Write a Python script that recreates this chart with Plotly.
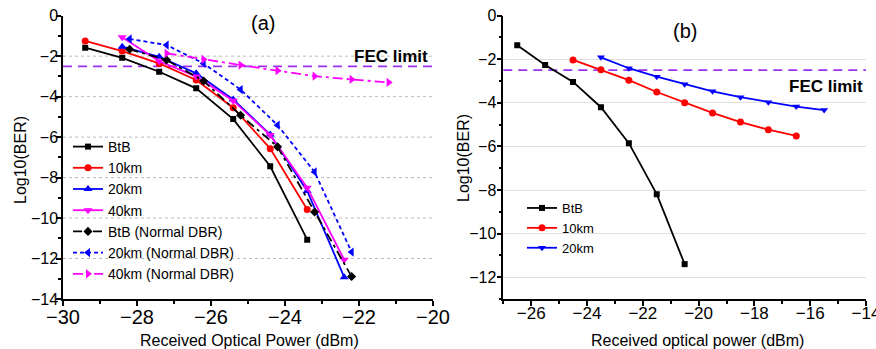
import plotly.graph_objects as go

# ---------------- Panel (a) data ----------------
a_btb_x = [-29.4, -28.4, -27.4, -26.4, -25.4, -24.4, -23.4]
a_btb_y = [-1.58, -2.08, -2.77, -3.59, -5.11, -7.44, -11.07]
a_10_x = [-29.4, -28.4, -27.4, -26.4, -25.4, -24.4, -23.4]
a_10_y = [-1.25, -1.75, -2.36, -3.18, -4.55, -6.57, -9.58]
a_20_x = [-28.4, -27.4, -26.4, -25.4, -24.4, -23.4, -22.4]
a_20_y = [-1.53, -2.03, -2.85, -4.14, -5.87, -8.66, -12.92]
a_40_x = [-28.4, -27.4, -26.4, -25.4, -24.4, -23.4, -22.4]
a_40_y = [-1.07, -2.25, -3.0, -4.2, -5.9, -8.5, -12.06]
a_btbn_x = [-28.2, -27.2, -26.2, -25.2, -24.2, -23.2, -22.2]
a_btbn_y = [-1.66, -2.19, -3.23, -4.92, -6.48, -9.70, -12.89]
a_20n_x = [-28.2, -27.2, -26.2, -25.2, -24.2, -23.2, -22.2]
a_20n_y = [-1.15, -1.45, -2.36, -3.65, -5.41, -7.72, -11.68]
a_40n_x = [-27.2, -26.2, -25.2, -24.2, -23.2, -22.2, -21.2]
a_40n_y = [-1.86, -2.16, -2.44, -2.72, -2.99, -3.15, -3.30]

# ---------------- Panel (b) data ----------------
b_btb_x = [-26.5, -25.5, -24.5, -23.5, -22.5, -21.5, -20.5]
b_btb_y = [-1.36, -2.26, -3.04, -4.20, -5.85, -8.19, -11.40]
b_10_x = [-24.5, -23.5, -22.5, -21.5, -20.5, -19.5, -18.5, -17.5, -16.5]
b_10_y = [-2.03, -2.48, -2.96, -3.50, -3.99, -4.46, -4.88, -5.23, -5.52]
b_20_x = [-23.5, -22.5, -21.5, -20.5, -19.5, -18.5, -17.5, -16.5, -15.5]
b_20_y = [-1.91, -2.41, -2.80, -3.15, -3.47, -3.74, -3.97, -4.17, -4.33]

FEC = -2.5
GRID_A = [-2, -4, -6, -8, -10, -12]

FONT = "Liberation Sans, Arial, sans-serif"
BLACK, RED, BLUE, MAG, PURPLE = "#000000", "#FF0000", "#0000FF", "#FF00FF", "#9B30F0"

fig = go.Figure()

def add(x, y, name, color, symbol, dash="solid", msize=7, xa="x", ya="y", legend="legend"):
    fig.add_trace(go.Scatter(
        x=x, y=y, name=name, mode="lines+markers",
        line=dict(color=color, width=1.8, dash=dash),
        marker=dict(symbol=symbol, size=msize, color=color),
        xaxis=xa, yaxis=ya, legend=legend))

add(a_btb_x, a_btb_y, "BtB", BLACK, "square", msize=6)
add(a_10_x, a_10_y, "10km", RED, "circle", msize=7)
add(a_20_x, a_20_y, "20km", BLUE, "triangle-up", msize=8)
add(a_40_x, a_40_y, "40km", MAG, "triangle-down", msize=8)
add(a_btbn_x, a_btbn_y, "BtB (Normal DBR)", BLACK, "diamond", dash="9px,4px,3px,4px", msize=7)
add(a_20n_x, a_20n_y, "20km (Normal DBR)", BLUE, "triangle-left", dash="4px,3px", msize=8)
add(a_40n_x, a_40n_y, "40km (Normal DBR)", MAG, "triangle-right", dash="10px,4px,3px,4px", msize=8)

add(b_btb_x, b_btb_y, "BtB", BLACK, "square", msize=6, xa="x2", ya="y2", legend="legend2")
add(b_10_x, b_10_y, "10km", RED, "circle", msize=7, xa="x2", ya="y2", legend="legend2")
add(b_20_x, b_20_y, "20km", BLUE, "triangle-down", msize=7, xa="x2", ya="y2", legend="legend2")

shapes = []
for g in GRID_A:
    shapes.append(dict(type="line", xref="x domain", yref="y", x0=0, x1=1, y0=g, y1=g,
                       line=dict(color="#BBBBBB", width=1, dash="dot"), layer="below"))
shapes.append(dict(type="line", xref="x domain", yref="y", x0=0, x1=1, y0=FEC, y1=FEC,
                   line=dict(color=PURPLE, width=1.8, dash="9px,6px"), layer="below"))
shapes.append(dict(type="line", xref="x2 domain", yref="y2", x0=0, x1=1, y0=FEC, y1=FEC,
                   line=dict(color=PURPLE, width=1.8, dash="9px,6px"), layer="below"))

W, H = 876, 349
def px(x): return x / W
def py(y): return 1 - y / H

common_axis = dict(showline=True, linecolor="black", linewidth=1.5, ticks="outside",
                   ticklen=5, tickwidth=1.5, tickcolor="black", zeroline=False,
                   mirror=False, automargin=False, ticklabeloverflow="allow")
minor = dict(dtick=1, ticks="outside", ticklen=3, tickcolor="black", showgrid=False)

fig.update_layout(
    width=W, height=H, margin=dict(l=0, r=0, t=0, b=0, pad=0, autoexpand=False),
    paper_bgcolor="white", plot_bgcolor="white",
    font=dict(family=FONT, color="black"),
    shapes=shapes,
    xaxis=dict(domain=[px(63), px(433)], range=[-30, -20], dtick=2, tick0=-30, minor=minor,
               showgrid=False, tickfont=dict(size=20), anchor="y", ticklabelstandoff=-6,
               **common_axis),
    yaxis=dict(domain=[py(299), py(15.7)], range=[-14, 0], dtick=2, tick0=0, minor=minor,
               showgrid=False, tickfont=dict(size=16), anchor="x", ticklabelstandoff=-5,
               **common_axis),
    xaxis2=dict(domain=[px(503.3), px(866)], range=[-27, -14], dtick=2, tick0=-26, minor=minor,
                showgrid=False, tickfont=dict(size=17), anchor="y2", ticklabelstandoff=-7,
                **common_axis),
    yaxis2=dict(domain=[py(299), py(15.7)], range=[-13, 0], dtick=2, tick0=0, minor=minor,
                showgrid=True, gridcolor="#E0E0E0", gridwidth=1, ticklabelstandoff=-3,
                tickfont=dict(size=16), anchor="x2", **common_axis),
    legend=dict(x=px(68), y=py(131), xanchor="left", yanchor="top",
                bgcolor="rgba(0,0,0,0)", font=dict(size=14), tracegroupgap=0,
                itemwidth=30),
    legend2=dict(x=px(522), y=py(193), xanchor="left", yanchor="top",
                 bgcolor="rgba(0,0,0,0)", font=dict(size=13), tracegroupgap=0,
                 itemwidth=30),
    showlegend=True,
)

ann = [
    dict(text="(a)", x=px(263), y=py(23), font=dict(size=20)),
    dict(text="(b)", x=px(685), y=py(31), font=dict(size=20)),
    dict(text="<b>FEC limit</b>", x=px(430), y=py(56), xanchor="right", font=dict(size=17)),
    dict(text="<b>FEC limit</b>", x=px(865), y=py(87), xanchor="right", font=dict(size=17)),
    dict(text="Received Optical Power (dBm)", x=px(249), y=py(340), font=dict(size=16)),
    dict(text="Received optical power (dBm)", x=px(697), y=py(340), font=dict(size=16)),
    dict(text="Log10(BER)", x=px(20), y=py(160), textangle=-90, font=dict(size=16)),
    dict(text="Log10(BER)", x=px(463), y=py(158), textangle=-90, font=dict(size=16)),
]
for a in ann:
    a.update(xref="paper", yref="paper", showarrow=False)
    a.setdefault("xanchor", "center")
    a["yanchor"] = "middle"
fig.update_layout(annotations=ann)

fig.write_html("out.html", config={"displayModeBar": False},
               post_script="document.body.style.margin='0px';")
